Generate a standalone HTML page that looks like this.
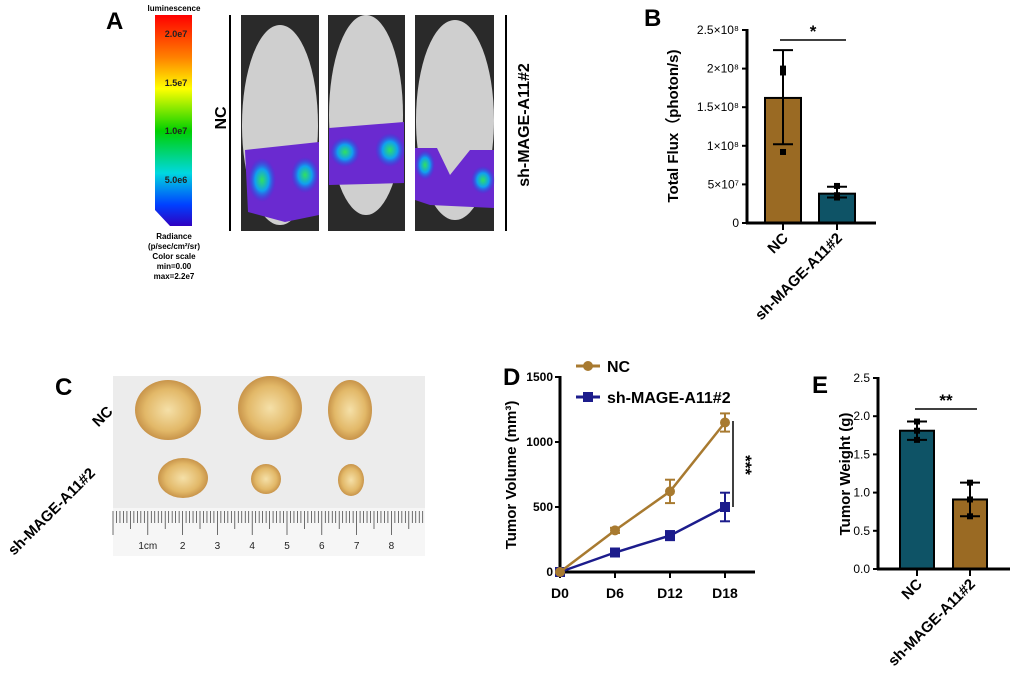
<!DOCTYPE html>
<html><head><meta charset="utf-8">
<style>
html,body{margin:0;padding:0;background:#fff;}
svg{display:block;font-family:"Liberation Sans",Arial,sans-serif;font-weight:bold;}
</style></head>
<body>
<svg id="fig" width="1020" height="700" viewBox="0 0 1020 700">
<defs>
<linearGradient id="cb" x1="0" y1="0" x2="0" y2="1">
<stop offset="0" stop-color="#ff0000"/><stop offset="0.2" stop-color="#ff8000"/><stop offset="0.35" stop-color="#ffff00"/><stop offset="0.55" stop-color="#00d000"/><stop offset="0.75" stop-color="#00d8e0"/><stop offset="0.9" stop-color="#0040ff"/><stop offset="1" stop-color="#3000c0"/>
</linearGradient>
<radialGradient id="spot"><stop offset="0" stop-color="#30e060"/><stop offset="0.5" stop-color="#10a0f0"/><stop offset="1" stop-color="#2040e0" stop-opacity="0"/></radialGradient>
<radialGradient id="tum"><stop offset="0" stop-color="#f5e0a8"/><stop offset="0.7" stop-color="#e2b868"/><stop offset="1" stop-color="#c8944a"/></radialGradient>
</defs>

<!-- Panel A -->
<g>
<text x="106" y="29" font-size="24">A</text>
<text x="174" y="11" font-size="8" text-anchor="middle">luminescence</text>
<polygon points="155,15 192,15 192,226 170,226 155,210" fill="url(#cb)"/>
<g font-size="9" text-anchor="middle" fill="#222">
<text x="176" y="37">2.0e7</text><text x="176" y="86">1.5e7</text><text x="176" y="134">1.0e7</text><text x="176" y="183">5.0e6</text>
</g>
<g font-size="8" text-anchor="middle">
<text x="174" y="239">Radiance</text><text x="174" y="249">(p/sec/cm²/sr)</text><text x="174" y="259">Color scale</text><text x="174" y="269">min=0.00</text><text x="174" y="279">max=2.2e7</text>
</g>
<line x1="230" y1="15" x2="230" y2="231" stroke="#000" stroke-width="2"/>
<line x1="506" y1="15" x2="506" y2="231" stroke="#000" stroke-width="2"/>
<text transform="translate(226,118) rotate(-90)" font-size="16" text-anchor="middle">NC</text>
<text transform="translate(529,125) rotate(-90)" font-size="16" text-anchor="middle">sh-MAGE-A11#2</text>
<g>
<rect x="241" y="15" width="78" height="216" fill="#2a2a2a"/>
<ellipse cx="280" cy="125" rx="38" ry="100" fill="#cfcfcf"/>
<path d="M245,150 L319,142 L319,215 L285,222 L248,212 Z" fill="#6a2ad0"/>
<ellipse cx="262" cy="180" rx="14" ry="22" fill="url(#spot)"/><ellipse cx="305" cy="175" rx="14" ry="18" fill="url(#spot)"/>
</g>
<g>
<rect x="328" y="15" width="77" height="216" fill="#2a2a2a"/>
<ellipse cx="366" cy="115" rx="37" ry="100" fill="#cfcfcf"/>
<path d="M329,128 L404,122 L404,183 L329,185 Z" fill="#6a2ad0"/>
<ellipse cx="345" cy="152" rx="15" ry="15" fill="url(#spot)"/><ellipse cx="390" cy="150" rx="15" ry="17" fill="url(#spot)"/>
</g>
<g>
<rect x="415" y="15" width="79" height="216" fill="#2a2a2a"/>
<ellipse cx="455" cy="120" rx="39" ry="100" fill="#cfcfcf"/>
<path d="M415,148 L437,148 L450,175 L470,150 L494,150 L494,208 L430,205 L415,200 Z" fill="#6a2ad0"/>
<ellipse cx="425" cy="165" rx="10" ry="15" fill="url(#spot)"/><ellipse cx="483" cy="180" rx="12" ry="14" fill="url(#spot)"/>
</g>
</g>

<!-- Panel C -->
<g>
<text x="55" y="395" font-size="24">C</text>
<text transform="translate(106,420) rotate(-45)" font-size="15" text-anchor="middle">NC</text>
<text transform="translate(55,515) rotate(-45)" font-size="15" text-anchor="middle">sh-MAGE-A11#2</text>
<rect x="113" y="376" width="312" height="180" fill="#ececec"/>
<g>
<ellipse cx="168" cy="410" rx="33" ry="30" fill="url(#tum)"/>
<ellipse cx="270" cy="408" rx="32" ry="32" fill="url(#tum)"/>
<ellipse cx="350" cy="410" rx="22" ry="30" fill="url(#tum)"/>
<ellipse cx="183" cy="478" rx="25" ry="20" fill="url(#tum)"/>
<ellipse cx="266" cy="479" rx="15" ry="15" fill="url(#tum)"/>
<ellipse cx="351" cy="480" rx="13" ry="16" fill="url(#tum)"/>
</g>
<rect x="113" y="508" width="312" height="48" fill="#f6f6f6"/>
<g id="ruler-ticks" stroke="#333" stroke-width="0.7"></g>
<g font-size="10" font-weight="normal" fill="#222" id="ruler-labels"></g>
</g>

<!-- Panel B -->
<g id="panelB">
<text x="644" y="26" font-size="24">B</text>
<text transform="translate(678,126) rotate(-90)" font-size="15" text-anchor="middle">Total Flux（photon/s)</text>
</g>

<!-- Panel D -->
<g id="panelD">
<text x="503" y="385" font-size="24">D</text>
<text transform="translate(516,475) rotate(-90)" font-size="15" text-anchor="middle">Tumor Volume (mm³)</text>
</g>

<!-- Panel E -->
<g id="panelE">
<text x="812" y="393" font-size="24">E</text>
<text transform="translate(850,474) rotate(-90)" font-size="15" text-anchor="middle">Tumor Weight (g)</text>
</g>
</svg>

<script>
// Panel B data
const bCategories = ["NC", "sh-MAGE-A11#2"];
const bValues = [1.62e8, 0.38e8];
const bErrLow = [1.02e8, 0.33e8];
const bErrHigh = [2.24e8, 0.47e8];
const bPoints = [[2.0e8, 1.95e8, 0.92e8], [0.33e8, 0.48e8, 0.36e8]];
const bTicks = [0, 5e7, 1e8, 1.5e8, 2e8, 2.5e8];
const bTickLabels = ["0", "5×10⁷", "1×10⁸", "1.5×10⁸", "2×10⁸", "2.5×10⁸"];

// Panel D data
const dDays = ["D0", "D6", "D12", "D18"];
const dNC = [0, 320, 620, 1150];
const dNCErr = [0, 20, 90, 70];
const dSh = [0, 150, 280, 500];
const dShErr = [0, 20, 35, 110];
const dTicks = [0, 500, 1000, 1500];

// Panel E data
const eCategories = ["NC", "sh-MAGE-A11#2"];
const eValues = [1.81, 0.91];
const eErrLow = [1.69, 0.69];
const eErrHigh = [1.93, 1.13];
const ePoints = [[1.93, 1.81, 1.69], [1.13, 0.91, 0.69]];
const eTicks = [0, 0.5, 1.0, 1.5, 2.0, 2.5];
const eTickLabels = ["0.0", "0.5", "1.0", "1.5", "2.0", "2.5"];

const NS = "http://www.w3.org/2000/svg";
function mk(parent, tag, attrs, text) {
  const el = document.createElementNS(NS, tag);
  for (const k in attrs) el.setAttribute(k, attrs[k]);
  if (text !== undefined) el.textContent = text;
  parent.appendChild(el);
  return el;
}

// Ruler
(function(){
  const rt = document.getElementById('ruler-ticks');
  const rl = document.getElementById('ruler-labels');
  const x0 = 113, cm = 34.8;
  for (let i = 0; i <= 90; i++) {
    const x = x0 + i * cm / 10;
    if (x > 425) break;
    const h = i % 10 === 0 ? 24 : (i % 5 === 0 ? 18 : 12);
    mk(rt, 'line', {x1: x, y1: 511, x2: x, y2: 511 + h});
  }
  for (let i = 1; i <= 8; i++) {
    const t = mk(rl, 'text', {x: x0 + i * cm, y: 549, 'text-anchor': 'middle'}, i === 1 ? '1cm' : String(i));
    
    
  }
})();

function barPanel(g, cfg) {
  const y = v => cfg.y0 - (v - 0) / cfg.max * (cfg.y0 - cfg.y1);
  cfg.ticks.forEach((t, i) => {
    mk(g, 'line', {x1: cfg.ax - 5, x2: cfg.ax, y1: y(t), y2: y(t), stroke: '#000', 'stroke-width': 2});
    const tl = mk(g, 'text', {x: cfg.ax - 8, y: y(t) + 4, 'font-size': 12, 'font-weight': 'normal', 'text-anchor': 'end'}, cfg.tickLabels[i]);
    
    
  });
  cfg.cats.forEach((c, i) => {
    const cx = cfg.cx[i];
    const b = mk(g, 'rect', {x: cx - cfg.bw / 2, y: y(cfg.vals[i]), width: cfg.bw, height: cfg.y0 - y(cfg.vals[i]), fill: cfg.colors[i], stroke: '#000', 'stroke-width': 2});
    
    
    mk(g, 'line', {x1: cx, x2: cx, y1: y(cfg.lo[i]), y2: y(cfg.hi[i]), stroke: '#000', 'stroke-width': 2});
    mk(g, 'line', {x1: cx - 10, x2: cx + 10, y1: y(cfg.lo[i]), y2: y(cfg.lo[i]), stroke: '#000', 'stroke-width': 2});
    mk(g, 'line', {x1: cx - 10, x2: cx + 10, y1: y(cfg.hi[i]), y2: y(cfg.hi[i]), stroke: '#000', 'stroke-width': 2});
    cfg.pts[i].forEach(p => {
      const d = mk(g, 'rect', {x: cx - 3, y: y(p) - 3, width: 6, height: 6, fill: '#000'});
      
      
    });
    mk(g, 'line', {x1: cx, x2: cx, y1: cfg.y0, y2: cfg.y0 + 7, stroke: '#000', 'stroke-width': 2});
    const cl = mk(g, 'text', {transform: `translate(${cx + 6},${cfg.y0 + 16}) rotate(-45)`, 'font-size': 15, 'text-anchor': 'end'}, c);
    
    
  });
  mk(g, 'line', {x1: cfg.ax, x2: cfg.ax, y1: cfg.y1 - 1, y2: cfg.y0 + 1, stroke: '#000', 'stroke-width': 3});
  mk(g, 'line', {x1: cfg.ax - 1, x2: cfg.xEnd, y1: cfg.y0, y2: cfg.y0, stroke: '#000', 'stroke-width': 3});
  mk(g, 'line', {x1: cfg.sig[0], x2: cfg.sig[1], y1: cfg.sig[2], y2: cfg.sig[2], stroke: '#000', 'stroke-width': 1.5});
  const s = mk(g, 'text', {x: (cfg.sig[0] + cfg.sig[1]) / 2, y: cfg.sig[2] - 3, 'font-size': 17, 'text-anchor': 'middle'}, cfg.star);
  
  
}

barPanel(document.getElementById('panelB'), {
  ax: 747, y0: 223, y1: 30, max: 2.5e8, xEnd: 876, bw: 36, cx: [783, 837],
  cats: bCategories, vals: bValues, lo: bErrLow, hi: bErrHigh, pts: bPoints,
  ticks: bTicks, tickLabels: bTickLabels, colors: ['#9a6a23', '#0e5366'],
  sig: [780, 846, 40], star: '*'
});
barPanel(document.getElementById('panelE'), {
  ax: 878, y0: 569, y1: 378, max: 2.5, xEnd: 1010, bw: 34, cx: [917, 970],
  cats: eCategories, vals: eValues, lo: eErrLow, hi: eErrHigh, pts: ePoints,
  ticks: eTicks, tickLabels: eTickLabels, colors: ['#0e5366', '#9a6a23'],
  sig: [915, 977, 409], star: '**'
});

// Panel D
(function(){
  const g = document.getElementById('panelD');
  const ax = 560, y0 = 572, y1 = 377, max = 1500;
  const y = v => y0 - v / max * (y0 - y1);
  const x = i => 560 + i * 55;
  dTicks.forEach(t => {
    mk(g, 'line', {x1: ax - 5, x2: ax, y1: y(t), y2: y(t), stroke: '#000', 'stroke-width': 2});
    const tl = mk(g, 'text', {x: ax - 7, y: y(t) + 4, 'font-size': 12, 'text-anchor': 'end'}, String(t));
    
    
  });
  dDays.forEach((d, i) => {
    mk(g, 'line', {x1: x(i), x2: x(i), y1: y0, y2: y0 + 6, stroke: '#000', 'stroke-width': 2});
    const tl = mk(g, 'text', {x: x(i), y: y0 + 26, 'font-size': 14, 'text-anchor': 'middle'}, d);
    
    
  });
  mk(g, 'line', {x1: ax, x2: ax, y1: y1 - 1, y2: y0 + 1, stroke: '#000', 'stroke-width': 3});
  mk(g, 'line', {x1: ax - 1, x2: 755, y1: y0, y2: y0, stroke: '#000', 'stroke-width': 3});
  function series(vals, errs, color, sq, name) {
    const pl = mk(g, 'polyline', {points: vals.map((v, i) => x(i) + ',' + y(v)).join(' '), fill: 'none', stroke: color, 'stroke-width': 2.5});
    
    
    vals.forEach((v, i) => {
      if (errs[i] > 0) {
        mk(g, 'line', {x1: x(i), x2: x(i), y1: y(v - errs[i]), y2: y(v + errs[i]), stroke: color, 'stroke-width': 2});
        mk(g, 'line', {x1: x(i) - 5, x2: x(i) + 5, y1: y(v - errs[i]), y2: y(v - errs[i]), stroke: color, 'stroke-width': 2});
        mk(g, 'line', {x1: x(i) - 5, x2: x(i) + 5, y1: y(v + errs[i]), y2: y(v + errs[i]), stroke: color, 'stroke-width': 2});
      }
      const m = sq ? mk(g, 'rect', {x: x(i) - 5, y: y(v) - 5, width: 10, height: 10, fill: color})
                   : mk(g, 'circle', {cx: x(i), cy: y(v), r: 5, fill: color});
      
      
    });
  }
  series(dSh, dShErr, '#1c1c8c', true, 'sh');
  series(dNC, dNCErr, '#a87a30', false, 'nc');
  mk(g, 'line', {x1: 576, x2: 600, y1: 366, y2: 366, stroke: '#a87a30', 'stroke-width': 3});
  mk(g, 'circle', {cx: 588, cy: 366, r: 5, fill: '#a87a30'});
  const l1 = mk(g, 'text', {x: 607, y: 372, 'font-size': 16}, 'NC');
  
  
  mk(g, 'line', {x1: 576, x2: 600, y1: 397, y2: 397, stroke: '#1c1c8c', 'stroke-width': 3});
  mk(g, 'rect', {x: 583, y: 392, width: 10, height: 10, fill: '#1c1c8c'});
  const l2 = mk(g, 'text', {x: 607, y: 403, 'font-size': 16}, 'sh-MAGE-A11#2');
  
  
  mk(g, 'line', {x1: 733, x2: 733, y1: 421, y2: 507, stroke: '#000', 'stroke-width': 1.5});
  const s = mk(g, 'text', {transform: 'translate(740,465) rotate(90)', 'font-size': 17, 'text-anchor': 'middle'}, '***');
  
  
})();
</script>
</body></html>
